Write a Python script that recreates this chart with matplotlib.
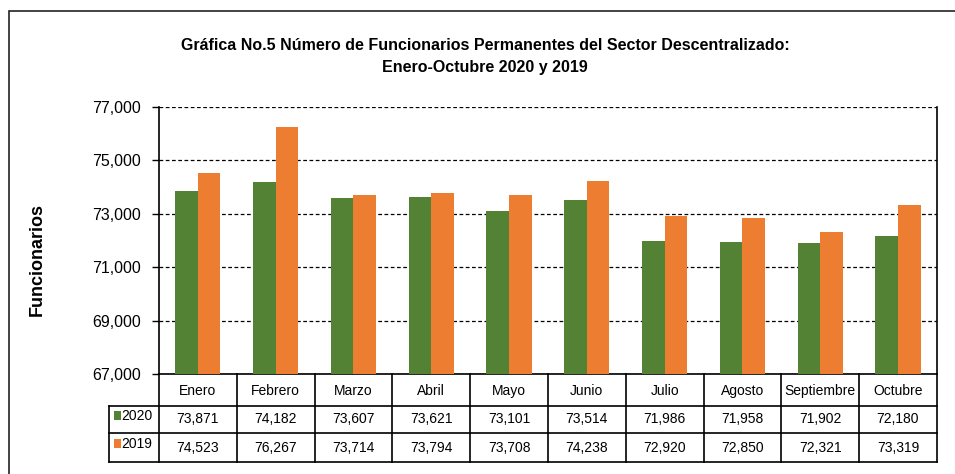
import matplotlib
matplotlib.use('Agg')
from matplotlib import pyplot as plt
from matplotlib.patches import Rectangle
from matplotlib.lines import Line2D
import numpy as np

plt.rcParams['font.family'] = ['Liberation Sans', 'DejaVu Sans']

months = ['Enero', 'Febrero', 'Marzo', 'Abril', 'Mayo', 'Junio',
          'Julio', 'Agosto', 'Septiembre', 'Octubre']
vals_2020 = [73871, 74182, 73607, 73621, 73101, 73514, 71986, 71958, 71902, 72180]
vals_2019 = [74523, 76267, 73714, 73794, 73708, 74238, 72920, 72850, 72321, 73319]
series_names = ['2020', '2019']
yticks = [67000, 69000, 71000, 73000, 75000, 77000]

green = '#548235'
orange = '#ED7D31'

fig = plt.figure(figsize=(9.55, 4.74), dpi=100)
ax = fig.add_axes([0.1665, 0.211, 0.8145, 0.563])

# outer chart frame
fig.patches.append(Rectangle((9 / 955, -0.1), 1.2, 1 - 11 / 474 + 0.1,
                             transform=fig.transFigure, fill=False,
                             edgecolor='#222222', lw=1.2))

x = np.arange(len(months))
w = 0.29
ax.bar(x - w / 2, vals_2020, w, color=green, zorder=3)
ax.bar(x + w / 2, vals_2019, w, color=orange, zorder=3)

ax.set_xlim(-0.5, len(months) - 0.5)
ax.set_ylim(67000, 77000)
ax.set_yticks(yticks)
ax.set_yticklabels(['{:,}'.format(v) for v in yticks], fontsize=11.5)
ax.tick_params(axis='y', direction='out', length=5, width=1, pad=8)
ax.set_xticks([])
ax.grid(axis='y', color='black', linestyle=(0, (3, 2)), lw=0.9, zorder=1)
ax.spines['top'].set_visible(False)
for s in ['left', 'right', 'bottom']:
    ax.spines[s].set_linewidth(1.2)

ax.set_ylabel('Funcionarios', fontsize=13, fontweight='bold', labelpad=0)
ax.yaxis.set_label_coords(-0.146, 0.43)

fig.text(0.508, 0.905, 'Gráfica No.5 Número de Funcionarios Permanentes del Sector Descentralizado:',
         ha='center', va='center', fontsize=11.5, fontweight='bold')
fig.text(0.508, 0.857, 'Enero-Octubre 2020 y 2019', ha='center', va='center',
         fontsize=11.5, fontweight='bold')

# data table below the axes
n = len(months)
cw = 1.0 / n
y0, y1, y2, y3 = 0.0, -0.12, -0.221, -0.33
leg_left = -0.0643
kw = dict(transform=ax.transAxes, clip_on=False)
lc = dict(color='black', lw=1.2)

lines = []
# horizontal lines
lines.append(([leg_left, 1], [y1, y1]))
lines.append(([leg_left, 1], [y2, y2]))
lines.append(([leg_left, 1], [y3, y3]))
# vertical lines
for i in range(n + 1):
    lines.append(([i * cw, i * cw], [y0, y3]))
lines.append(([leg_left, leg_left], [y1, y3]))
for xs, ys in lines:
    ax.add_line(Line2D(xs, ys, **kw, **lc))

for i, m in enumerate(months):
    cx = (i + 0.5) * cw
    ax.text(cx, (y0 + y1) / 2 - 0.005, m, ha='center', va='center', fontsize=10, **kw)
    ax.text(cx, (y1 + y2) / 2, '{:,}'.format(vals_2020[i]), ha='center', va='center', fontsize=10, **kw)
    ax.text(cx, (y2 + y3) / 2, '{:,}'.format(vals_2019[i]), ha='center', va='center', fontsize=10, **kw)

for (ya, yb), name, col in zip([(y1, y2), (y2, y3)], series_names, [green, orange]):
    cy = (ya + yb) / 2
    ax.add_patch(Rectangle((leg_left + 0.0065, cy - 0.002), 0.0085, 0.033,
                           facecolor=col, edgecolor='none', **kw))
    ax.text(leg_left + 0.016, cy + 0.012, name, ha='left', va='center', fontsize=10, **kw)

fig.savefig('out.png', dpi=100)
